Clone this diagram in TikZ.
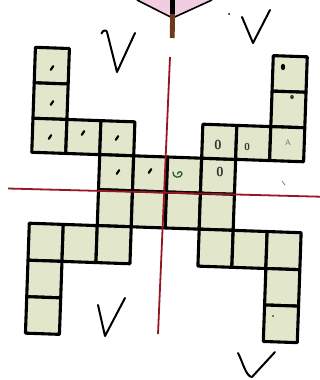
\documentclass[tikz,border=0pt]{standalone}
\usetikzlibrary{calc}
\definecolor{cellfill}{RGB}{226,231,204}
\definecolor{axisred}{RGB}{150,22,34}
\definecolor{stembrown}{RGB}{110,55,30}
\definecolor{flagpink}{RGB}{242,204,224}
\definecolor{pencil}{RGB}{50,58,52}

\begin{document}
\begin{tikzpicture}[x=1pt, y=-1pt,
  cell/.style={draw=black, fill=cellfill, line width=3.1pt, line join=round},
  tick/.style={draw=black, line width=2.2pt, line cap=round},
  vmark/.style={draw=black, line width=2pt, line cap=round, line join=round},
  digit/.style={text=pencil, font=\sffamily\bfseries, inner sep=0pt},
  axis/.style={draw=axisred, line width=1.8pt}]

  \useasboundingbox (0,0) rectangle (320,380);
  \fill[white] (0,0) rectangle (320,380);

  % ----- pointer at the top -----
  \fill[flagpink] (137,0) -- (172.5,18) -- (212,0) -- cycle;
  \draw[black, line width=1.6pt] (137,0) -- (172.5,18) -- (212,0);
  \draw[stembrown, line width=4.8pt] (172.5,10) -- (172.3,38);
  \draw[black, line width=4.8pt] (172.5,0) -- (172.5,14);

  % ----- grid of squares -----
  \def\rowy{{52,87.5,123,157,192,228,265,301.5,338}}
  \begin{scope}[rotate around={-2:(167,191)}]
    \foreach \c/\r in {0/0,0/1,0/2,1/2,2/2, 2/3,3/3,4/3,5/3, 2/4,3/4,4/4,5/4,
                       7/0,7/1,5/2,6/2,7/2, 0/5,1/5,2/5,0/6,0/7,
                       5/5,6/5,7/5,7/6,7/7}{
      \pgfmathsetmacro\xa{30.5+34*\c}
      \pgfmathsetmacro\xb{\xa+34}
      \pgfmathsetmacro\ya{\rowy[\r]}
      \pgfmathsetmacro\yb{\rowy[\r+1]}
      \draw[cell] (\xa,\ya) rectangle (\xb,\yb);
    }
  \end{scope}

  % ----- red axes -----
  \draw[axis] (170,57) -- (158,334);
  \draw[axis] (8,188.5) -- (320,196.7);

  % ----- pencil marks in the squares -----
  \foreach \px/\py in {52/68, 52/103, 50/137, 83/133, 117/138, 118/172, 150/171}{
    \draw[tick] (\px-1.2,\py+1.8) -- (\px+1.2,\py-1.8);
  }
  \fill[black] (283,67) ellipse [x radius=2.2, y radius=3.2];
  \fill[pencil] (292,97) ellipse [x radius=1.8, y radius=2.2];
  \fill[black] (273,316) circle (0.8);
  \node[digit, font=\sffamily\bfseries\fontsize{13}{13}\selectfont] (zeroa) at (218,145) {0};
  \node[digit, font=\sffamily\bfseries\fontsize{13}{13}\selectfont] (zerob) at (220,172) {0};
  \node[digit, font=\sffamily\bfseries\fontsize{10}{10}\selectfont] (zeroc) at (247,147) {0};
  \node[digit, text=pencil!70, font=\sffamily\fontsize{8}{8}\selectfont] (lettera) at (288,143) {A};
  \draw[pencil!80!green, line width=1.3pt, line cap=round]
    (173,172) .. controls (172,178) and (181,179) .. (182,174)
    .. controls (182,171) and (178,171) .. (177.5,174);
  \draw[gray, line width=0.8pt, line cap=round] (282,181) -- (285,185);

  % ----- ticks round the figure -----
  \draw[vmark] (101.5,33.5) .. controls (103,30) and (106,29.5) .. (107,32) -- (117,72) -- (135,33);
  \fill[black] (229,14) circle (1);
  \draw[vmark] (242,17) -- (253,43) -- (270,10);
  \draw[vmark] (98,305) -- (105,336) -- (125,298);
  \draw[vmark] (238,353) .. controls (242,360) and (246,377) .. (252,377) -- (275,352);

\end{tikzpicture}
\end{document}
